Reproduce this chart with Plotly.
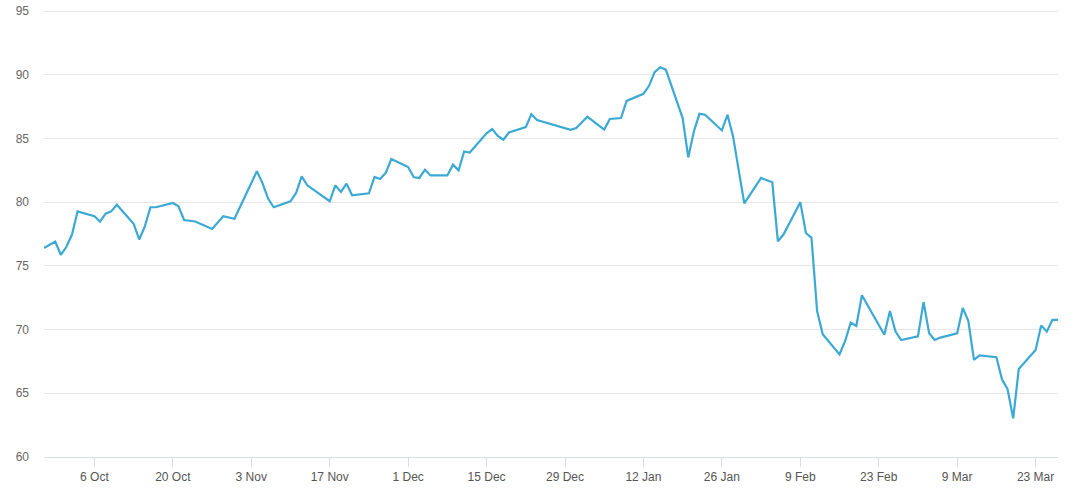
import plotly.graph_objects as go

dates = [
    "2025-09-27", "2025-09-29", "2025-09-30", "2025-10-01", "2025-10-02", "2025-10-03",
    "2025-10-06", "2025-10-07", "2025-10-08", "2025-10-09", "2025-10-10",
    "2025-10-13", "2025-10-14", "2025-10-15", "2025-10-16", "2025-10-17",
    "2025-10-20", "2025-10-21", "2025-10-22", "2025-10-24",
    "2025-10-27", "2025-10-29", "2025-10-31",
    "2025-11-04", "2025-11-05", "2025-11-06", "2025-11-07",
    "2025-11-10", "2025-11-11", "2025-11-12", "2025-11-13",
    "2025-11-17", "2025-11-18", "2025-11-19", "2025-11-20", "2025-11-21",
    "2025-11-24", "2025-11-25", "2025-11-26", "2025-11-27", "2025-11-28",
    "2025-12-01", "2025-12-02", "2025-12-03", "2025-12-04", "2025-12-05",
    "2025-12-08", "2025-12-09", "2025-12-10", "2025-12-11", "2025-12-12",
    "2025-12-15", "2025-12-16", "2025-12-17", "2025-12-18", "2025-12-19",
    "2025-12-22", "2025-12-23", "2025-12-24",
    "2025-12-30", "2025-12-31", "2026-01-02",
    "2026-01-05", "2026-01-06", "2026-01-08", "2026-01-09",
    "2026-01-12", "2026-01-13", "2026-01-14", "2026-01-15", "2026-01-16",
    "2026-01-19", "2026-01-20", "2026-01-21", "2026-01-22", "2026-01-23",
    "2026-01-26", "2026-01-27", "2026-01-28", "2026-01-30",
    "2026-02-02", "2026-02-04", "2026-02-05", "2026-02-06",
    "2026-02-09", "2026-02-10", "2026-02-11", "2026-02-12", "2026-02-13",
    "2026-02-16", "2026-02-17", "2026-02-18", "2026-02-19", "2026-02-20",
    "2026-02-24", "2026-02-25", "2026-02-26", "2026-02-27",
    "2026-03-02", "2026-03-03", "2026-03-04", "2026-03-05", "2026-03-06",
    "2026-03-09", "2026-03-10", "2026-03-11", "2026-03-12", "2026-03-13",
    "2026-03-16", "2026-03-17", "2026-03-18", "2026-03-19", "2026-03-20",
    "2026-03-23", "2026-03-24", "2026-03-25", "2026-03-26", "2026-03-27",
]

values = [
    76.4, 76.9, 75.87, 76.5, 77.46, 79.28,
    78.9, 78.48, 79.1, 79.28, 79.8,
    78.3, 77.07, 78.1, 79.6, 79.6,
    79.94, 79.68, 78.6, 78.48,
    77.9, 78.9, 78.7,
    82.42, 81.5, 80.28, 79.6,
    80.07, 80.72, 82.02, 81.32,
    80.07, 81.32, 80.8, 81.45, 80.54,
    80.7, 81.98, 81.82, 82.3, 83.39,
    82.76, 81.95, 81.9, 82.55, 82.1,
    82.1, 82.94, 82.5, 83.98, 83.9,
    85.4, 85.74, 85.2, 84.9, 85.47,
    85.89, 86.9, 86.44,
    85.68, 85.81, 86.7,
    85.7, 86.53, 86.6, 87.95,
    88.5, 89.13, 90.2, 90.59, 90.4,
    86.6, 83.51, 85.55, 86.93, 86.86,
    85.63, 86.86, 85.16, 79.91,
    81.9, 81.56, 76.93, 77.46,
    80.0, 77.58, 77.2, 71.45, 69.63,
    68.05, 69.1, 70.55, 70.28, 72.7,
    69.6, 71.45, 69.84, 69.18,
    69.47, 72.16, 69.71, 69.18, 69.37,
    69.71, 71.7, 70.67, 67.62, 67.98,
    67.83, 66.1, 65.32, 63.03, 66.9,
    68.4, 70.33, 69.84, 70.76, 70.76,
]

tick_dates = [
    "2025-10-06", "2025-10-20", "2025-11-03", "2025-11-17", "2025-12-01",
    "2025-12-15", "2025-12-29", "2026-01-12", "2026-01-26", "2026-02-09",
    "2026-02-23", "2026-03-09", "2026-03-23",
]
tick_labels = [
    "6 Oct", "20 Oct", "3 Nov", "17 Nov", "1 Dec", "15 Dec", "29 Dec",
    "12 Jan", "26 Jan", "9 Feb", "23 Feb", "9 Mar", "23 Mar",
]
y_ticks = [60, 65, 70, 75, 80, 85, 90, 95]

fig = go.Figure()
fig.add_trace(go.Scatter(
    x=dates, y=values, mode="lines",
    line=dict(color="#3ba9d4", width=2.2),
    showlegend=False,
))

font_family = "Liberation Sans, Arial, sans-serif"

fig.update_layout(
    width=1080, height=495,
    margin=dict(l=44, r=22, t=9, b=38, autoexpand=False),
    paper_bgcolor="white", plot_bgcolor="white",
    font=dict(family=font_family, size=12, color="#666666"),
    xaxis=dict(
        type="date", automargin=False,
        range=[dates[0], dates[-1]],
        tickvals=tick_dates, ticktext=tick_labels,
        showgrid=False, zeroline=False,
        showline=True, linecolor="#d8dde6", linewidth=1,
        ticks="outside", ticklen=9, tickcolor="#d8dde6", tickwidth=1,
        tickfont=dict(family=font_family, size=12, color="#555555"),
    ),
    yaxis=dict(
        range=[60, 95.16], automargin=False,
        tickvals=y_ticks, ticklabeloverflow="allow",
        showgrid=True, gridcolor="#e8e8e8", gridwidth=1,
        zeroline=False, showline=False,
        ticks="", ticklabelstandoff=14,
        tickfont=dict(family=font_family, size=12, color="#666666"),
    ),
)

fig.write_html(
    "out.html",
    config={"displayModeBar": False},
    post_script="document.body.style.margin='0';document.body.style.overflow='hidden';",
)
